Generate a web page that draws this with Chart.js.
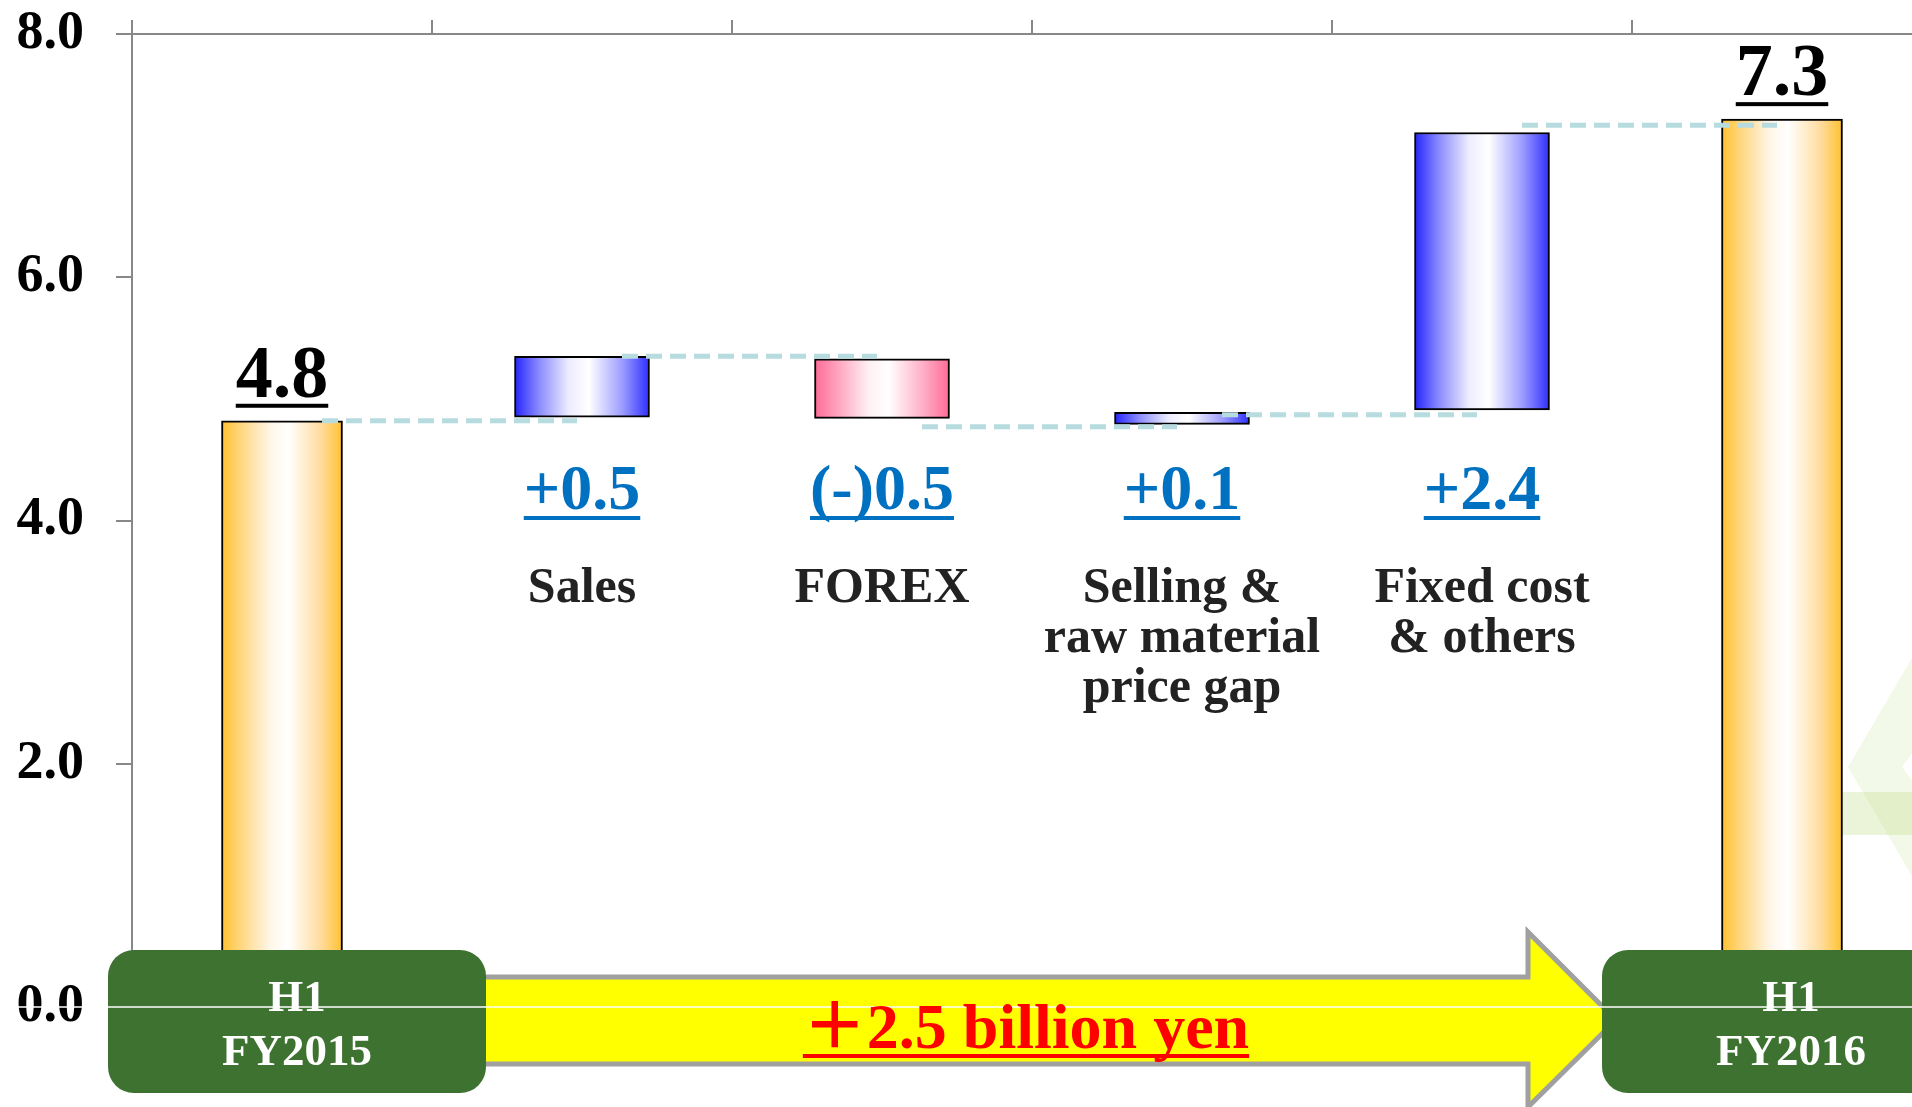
<!DOCTYPE html>
<html>
<head>
<meta charset="utf-8">
<script src="https://cdn.jsdelivr.net/npm/chart.js@4.4.0/dist/chart.umd.min.js"></script>
<style>
    html, body { margin: 0; padding: 0; background: #ffffff; overflow: hidden; }
    #wrap { width: 1940px; height: 1107px; }
</style>
</head>
<body>
<div id="wrap"><canvas id="chart" width="1940" height="1107"></canvas></div>
<script>
// Operating income bridge, billion yen
const categories = ["H1 FY2015", "Sales", "FOREX", "Selling & raw material price gap", "Fixed cost & others", "H1 FY2016"];
const categoryLines = [["H1", "FY2015"], ["Sales"], ["FOREX"], ["Selling &", "raw material", "price gap"], ["Fixed cost", "& others"], ["H1", "FY2016"]];
const totalValues = [4.82, null, null, null, null, 7.30];
const totalLabels = ["4.8", "", "", "", "", "7.3"];
const stepFrom = [null, 4.85, 5.33, 4.79, 4.91, null];
const stepTo = [null, 5.35, 4.84, 4.89, 7.19, null];
const stepLabels = ["", "+0.5", "(-)0.5", "+0.1", "+2.4", ""];
const connectorLevels = [4.82, 5.35, 4.77, 4.87, 7.25];
const totalChange = "＋2.5 billion yen";
const yMin = 0, yMax = 8, yStep = 2;

const SERIF = '"Liberation Serif", "Times New Roman", "Noto Sans CJK JP", serif';
const TOTAL_W = 121;
const STEP_W = 135;

const orangeStops = [[0, "#ffc12e"], [0.14, "#ffd476"], [0.4, "#fff6e8"], [0.55, "#ffffff"], [0.82, "#ffdc9e"], [1, "#ffc12e"]];
const blueStops = [[0, "#2424ff"], [0.18, "#8a8aff"], [0.4, "#ececff"], [0.55, "#ffffff"], [0.8, "#9c9cff"], [1, "#2e2eff"]];
const pinkStops = [[0, "#ff6a97"], [0.18, "#ffa6c0"], [0.4, "#fff0f4"], [0.55, "#ffffff"], [0.8, "#ffb0c8"], [1, "#ff6a97"]];

function barGradient(ctx, width, stops) {
    const chart = ctx.chart;
    if (ctx.type !== "data" || !chart.chartArea) return stops[0][1];
    const x = chart.scales.x.getPixelForValue(ctx.dataIndex);
    const g = chart.ctx.createLinearGradient(x - width / 2, 0, x + width / 2, 0);
    stops.forEach(s => g.addColorStop(s[0], s[1]));
    return g;
}

function underlined(c, text, cx, base, font, color, gap, thick) {
    c.font = font;
    c.fillStyle = color;
    c.textAlign = "center";
    c.textBaseline = "alphabetic";
    c.fillText(text, cx, base);
    const w = c.measureText(text).width;
    c.fillRect(cx - w / 2, base + gap - thick / 2, w, thick);
}

const overlay = {
    id: "overlay",
    beforeDatasetsDraw(chart) {
        // faint slide decoration at the right edge
        const c = chart.ctx;
        c.save();
        c.fillStyle = "rgba(190,220,130,0.18)";
        c.beginPath();
        c.moveTo(1940, 610); c.lineTo(1848, 767); c.lineTo(1940, 924); c.closePath();
        c.fill();
        c.fillStyle = "#ffffff";
        c.beginPath();
        c.moveTo(1940, 716); c.lineTo(1902, 767); c.lineTo(1940, 818); c.closePath();
        c.fill();
        c.fillStyle = "rgba(190,220,130,0.3)";
        c.fillRect(1842, 792, 100, 43);
        c.restore();
    },
    afterDatasetsDraw(chart) {
        const c = chart.ctx;
        const xs = chart.scales.x, ys = chart.scales.y;
        const y0 = ys.getPixelForValue(0);
        c.save();

        // dashed connectors between bars
        c.strokeStyle = "#b6dcdf";
        c.lineWidth = 5;
        c.setLineDash([16, 8]);
        connectorLevels.forEach((v, i) => {
            const py = ys.getPixelForValue(v);
            c.beginPath();
            c.moveTo(xs.getPixelForValue(i) + 40, py);
            c.lineTo(xs.getPixelForValue(i + 1) - 5, py);
            c.stroke();
        });
        c.setLineDash([]);

        // boxes for the two totals
        const boxW = 378, boxH = 143, boxTop = y0 - 57;
        const first = xs.getPixelForValue(0) + 15;
        const last = xs.getPixelForValue(categories.length - 1) + 9;

        // yellow arrow from one total to the other
        const ax0 = first + boxW / 2 - 10;
        const tip = last - boxW / 2 + 14;
        const shoulder = tip - 88;
        const mid = y0 + 13;
        c.beginPath();
        c.moveTo(ax0, y0 - 30);
        c.lineTo(shoulder, y0 - 30);
        c.lineTo(shoulder, y0 - 75);
        c.lineTo(tip, mid);
        c.lineTo(shoulder, y0 + 100);
        c.lineTo(shoulder, y0 + 57);
        c.lineTo(ax0, y0 + 57);
        c.closePath();
        c.fillStyle = "#ffff00";
        c.fill();
        c.strokeStyle = "#a0a0a0";
        c.lineWidth = 5;
        c.stroke();

        [[first, 0], [last, categories.length - 1]].forEach(([cx, i]) => {
            c.fillStyle = "#3e7230";
            c.beginPath();
            c.roundRect(cx - boxW / 2, boxTop, boxW, boxH, 26);
            c.fill();
            c.fillStyle = "#ffffff";
            c.font = "bold 45px " + SERIF;
            c.textAlign = "center";
            c.textBaseline = "alphabetic";
            c.fillText(categoryLines[i][0], cx, boxTop + 61);
            c.fillText(categoryLines[i][1], cx, boxTop + 115);
        });

        // white zero line drawn over everything
        c.strokeStyle = "#ffffff";
        c.lineWidth = 1.5;
        c.beginPath();
        c.moveTo(0, y0);
        c.lineTo(chart.width, y0);
        c.stroke();

        // change text on the arrow
        underlined(c, totalChange, (ax0 + tip) / 2 - 20, y0 + 41, "bold 64px " + SERIF, "#ff0000", 8, 4);

        // totals above bars
        totalValues.forEach((v, i) => {
            if (v === null) return;
            underlined(c, totalLabels[i], xs.getPixelForValue(i), ys.getPixelForValue(v) - 24, "bold 74px " + SERIF, "#000000", 9, 4);
        });

        // step values and names
        stepLabels.forEach((t, i) => {
            if (!t) return;
            const cx = xs.getPixelForValue(i);
            underlined(c, t, cx, 509, "bold 64px " + SERIF, "#0070c0", 9, 4);
            c.fillStyle = "#222222";
            c.font = "bold 50px " + SERIF;
            categoryLines[i].forEach((line, k) => {
                c.fillText(line, cx, 602 + k * 50);
            });
        });
        c.restore();
    }
};

const chart = new Chart(document.getElementById("chart"), {
    type: "bar",
    data: {
        labels: categories,
        datasets: [
            {
                label: "Total",
                data: totalValues,
                barThickness: TOTAL_W,
                grouped: false,
                borderColor: "#000000",
                borderWidth: 2,
                borderSkipped: false,
                backgroundColor: ctx => barGradient(ctx, TOTAL_W, orangeStops),
            },
            {
                label: "Change",
                data: stepFrom.map((v, i) => v === null ? null : [v, stepTo[i]]),
                barThickness: STEP_W,
                grouped: false,
                borderColor: "#000000",
                borderWidth: 2,
                borderSkipped: false,
                backgroundColor: ctx => {
                    const i = ctx.dataIndex;
                    const down = stepTo[i] < stepFrom[i];
                    return barGradient(ctx, STEP_W, down ? pinkStops : blueStops);
                },
            },
        ],
    },
    options: {
        responsive: false,
        animation: false,
        layout: { padding: { top: 20, left: 17, right: 8, bottom: 100 } },
        plugins: {
            legend: { display: false },
            tooltip: { enabled: false },
        },
        scales: {
            x: {
                position: "top",
                grid: { offset: true, drawOnChartArea: false, tickLength: 14, color: "#888888", lineWidth: 2 },
                border: { color: "#888888", width: 2 },
                ticks: { display: false },
                afterFit: scale => { scale.height = 14; },
            },
            y: {
                min: yMin,
                max: yMax,
                grid: { drawOnChartArea: false, tickLength: 16, color: "#888888", lineWidth: 2 },
                border: { color: "#888888", width: 2 },
                ticks: {
                    stepSize: yStep,
                    padding: 32,
                    color: "#000000",
                    font: { family: SERIF, size: 54, weight: "bold" },
                    callback: v => v.toFixed(1),
                },
                afterFit: scale => {
                    scale.width = 115;
                    scale.paddingTop = 0;
                    scale.paddingBottom = 0;
                },
            },
        },
    },
    plugins: [overlay],
});
</script>
</body>
</html>
